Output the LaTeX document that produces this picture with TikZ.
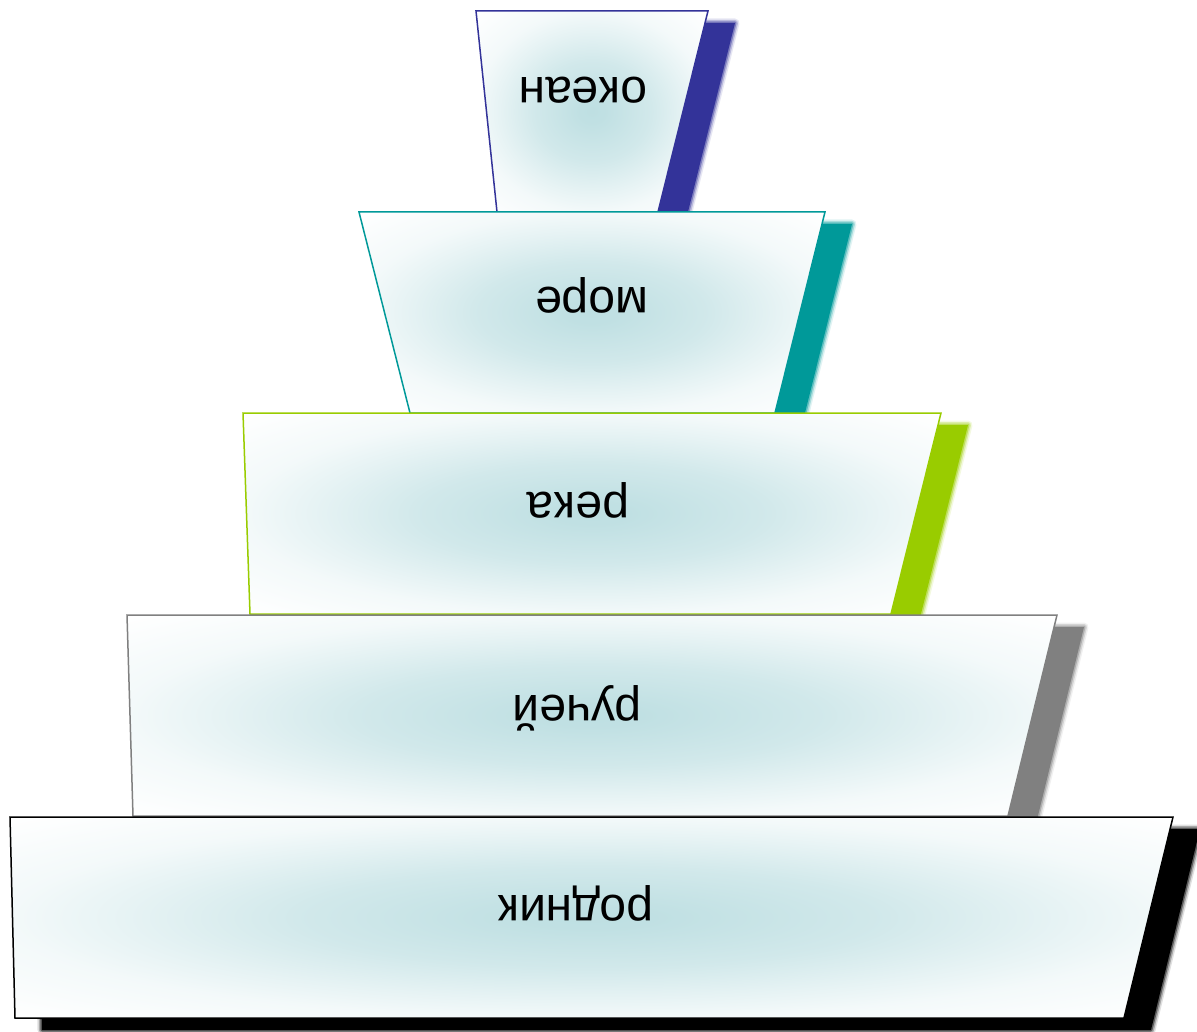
\documentclass[tikz,border=0pt]{standalone}
\usepackage{fontspec}
\setmainfont{Liberation Sans}
\definecolor{cA}{HTML}{333399}
\definecolor{cB}{HTML}{009999}
\definecolor{cC}{HTML}{99CC00}
\definecolor{cD}{HTML}{808080}
\definecolor{cE}{HTML}{000000}
\definecolor{fillc}{HTML}{BEDFE2}
\pgfdeclareradialshading{tiershade}{\pgfpoint{0bp}{0bp}}{%
  color(0bp)=(fillc); color(3bp)=(fillc!96!white); color(12.5bp)=(fillc!70!white);
  color(20bp)=(fillc!38!white); color(25bp)=(fillc!18!white); color(35bp)=(white); color(50bp)=(white)}
\tikzset{
  tier/.style={line width=1.5pt, line join=miter, shading=tiershade},
  label/.style={font=\fontsize{48}{58}\selectfont, text=black, rotate=180, anchor=base, inner sep=0pt},
}
\newcommand\tiershadow[2]{%
  \begin{scope}[shift={(27,12)}]
    \draw[#1, line width=9pt, opacity=0.12, line join=round] #2 -- cycle;
    \draw[#1, line width=6pt, opacity=0.25, line join=round] #2 -- cycle;
    \draw[#1, line width=3pt, opacity=0.45, line join=round] #2 -- cycle;
    \fill[#1] #2 -- cycle;
  \end{scope}}
\newcommand\tierbody[2]{%
  \shade[tier, draw=#1] #2 -- cycle;}
\begin{document}
\begin{tikzpicture}[x=1pt, y=-1pt]
\useasboundingbox (0,0) rectangle (1197,1032);
% tier 1: ocean
\tiershadow{cA}{(476,11) -- (708,11) -- (658,212) -- (497,212)}
\tierbody{cA}{(476,11) -- (708,11) -- (658,212) -- (497,212)}
\node[label] (ocean) at (583,78) {океан};
% tier 2: sea
\tiershadow{cB}{(359,212) -- (825,212) -- (775,413) -- (410,413)}
\tierbody{cB}{(359,212) -- (825,212) -- (775,413) -- (410,413)}
\node[label] (sea) at (592,288) {море};
% tier 3: river
\tiershadow{cC}{(243,413) -- (941,413) -- (891,614) -- (250,614)}
\tierbody{cC}{(243,413) -- (941,413) -- (891,614) -- (250,614)}
\node[label] (river) at (578,492) {река};
% tier 4: stream
\tiershadow{cD}{(127,615) -- (1057,615) -- (1008,816) -- (133,816)}
\tierbody{cD}{(127,615) -- (1057,615) -- (1008,816) -- (133,816)}
\node[label] (stream) at (577,695) {ручей};
% tier 5: spring
\tiershadow{cE}{(10,817) -- (1173,817) -- (1124,1018) -- (15,1018)}
\tierbody{cE}{(10,817) -- (1173,817) -- (1124,1018) -- (15,1018)}
\node[label] (spring) at (576,895) {родник};
\end{tikzpicture}
\end{document}
